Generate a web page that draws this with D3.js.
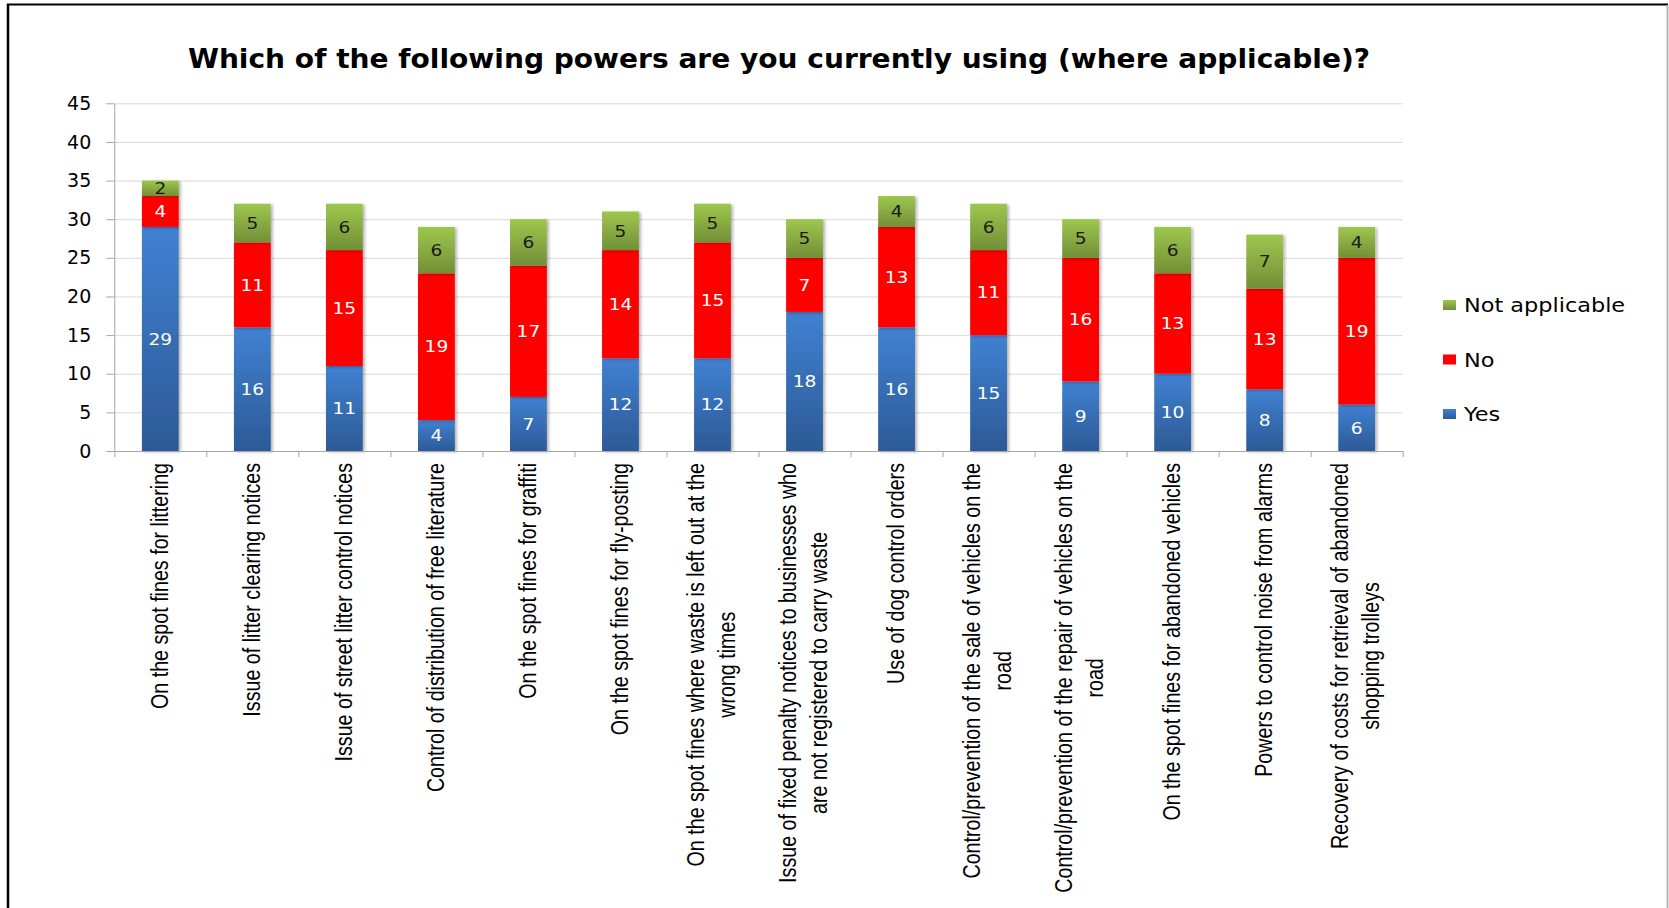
<!DOCTYPE html>
<html lang="en">
<head>
<meta charset="utf-8">
<title>Powers currently used</title>
<script src="https://cdn.jsdelivr.net/npm/d3@7"></script>
<style>
  body { margin: 0; background: #fff; }
  svg { display: block; }
</style>
</head>
<body>
<div id="chart"></div>
<script>
// category labels, one entry per line of the (rotated) label
var categories = [
  ["On the spot fines for littering"],
  ["Issue of litter clearing notices"],
  ["Issue of street litter control notices"],
  ["Control of distribution of free literature"],
  ["On the spot fines for graffiti"],
  ["On the spot fines for fly-posting"],
  ["On the spot fines where waste is left out at the", "wrong times"],
  ["Issue of fixed penalty notices to businesses who", "are not registered to carry waste"],
  ["Use of dog control orders"],
  ["Control/prevention of the sale of vehicles on the", "road"],
  ["Control/prevention of the repair of vehicles on the", "road"],
  ["On the spot fines for abandoned vehicles"],
  ["Powers to control noise from alarms"],
  ["Recovery of costs for retrieval of abandoned", "shopping trolleys"]
];
var yesValues = [29, 16, 11, 4, 7, 12, 12, 18, 16, 15, 9, 10, 8, 6];
var noValues  = [4, 11, 15, 19, 17, 14, 15, 7, 13, 11, 16, 13, 13, 19];
var naValues  = [2, 5, 6, 6, 6, 5, 5, 5, 4, 6, 5, 6, 7, 4];
var seriesNames = ["Yes", "No", "Not applicable"];
var yTicks = [0, 5, 10, 15, 20, 25, 30, 35, 40, 45];
var titleText = "Which of the following powers are you currently using (where applicable)?";

var W = 1669, H = 908;
var plotLeft = 114.3, plotRight = 1402.7, plotTop = 103.3, plotBottom = 451;

var svg = d3.select("#chart").append("svg")
    .attr("width", W)
    .attr("height", H);

var defs = svg.append("defs");
function vgrad(id, c1, c2) {
  var g = defs.append("linearGradient").attr("id", id)
    .attr("x1", 0).attr("y1", 0).attr("x2", 0).attr("y2", 1);
  g.append("stop").attr("offset", "0%").attr("stop-color", c1);
  g.append("stop").attr("offset", "100%").attr("stop-color", c2);
}
vgrad("gYes", "#4081d2", "#2c5a96");
vgrad("gNA", "#9ec74e", "#728f36");
var sh = defs.append("filter").attr("id", "shadow")
    .attr("x", "-20%").attr("y", "-5%").attr("width", "150%").attr("height", "115%");
sh.append("feDropShadow").attr("dx", 2).attr("dy", 1)
    .attr("stdDeviation", 1.4).attr("flood-color", "#000").attr("flood-opacity", 0.3);

var fills = { "Yes": "url(#gYes)", "No": "#ff0000", "Not applicable": "url(#gNA)" };
var labelColors = { "Yes": "#ffffff", "No": "#ffffff", "Not applicable": "#1a1a1a" };

// frame round the chart area
svg.append("line").attr("x1", 7).attr("x2", 1668).attr("y1", 4.5).attr("y2", 4.5)
    .attr("stroke", "#000").attr("stroke-width", 2);
svg.append("line").attr("x1", 8).attr("x2", 8).attr("y1", 4).attr("y2", H)
    .attr("stroke", "#000").attr("stroke-width", 2.5);
svg.append("line").attr("x1", 1667.5).attr("x2", 1667.5).attr("y1", 5).attr("y2", H)
    .attr("stroke", "#b5b5b5").attr("stroke-width", 2);

// title
svg.append("text")
    .attr("transform", "translate(779,68) scale(1.08,1)")
    .attr("text-anchor", "middle")
    .style("font-family", "'DejaVu Sans', sans-serif")
    .style("font-weight", "bold")
    .style("font-size", "26px")
    .style("fill", "#000")
    .text(titleText);

var data = categories.map(function(c, i) {
  return { idx: i, "Yes": yesValues[i], "No": noValues[i], "Not applicable": naValues[i] };
});

var x = d3.scaleBand()
    .domain(d3.range(categories.length))
    .range([plotLeft, plotRight])
    .paddingInner(0.6)
    .paddingOuter(0.3);

var xEdge = d3.scaleLinear().domain([0, categories.length]).range([plotLeft, plotRight]);

var y = d3.scaleLinear().domain([0, 45]).range([plotBottom, plotTop]);

// gridlines
svg.append("g")
    .attr("transform", "translate(" + plotLeft + ",0)")
    .call(d3.axisLeft(y).tickValues(yTicks).tickSize(-(plotRight - plotLeft)).tickFormat(""))
    .call(function(g) {
      g.select(".domain").remove();
      g.selectAll("line").attr("stroke", "#d9d9d9").attr("stroke-width", 1);
    });

// stacked bars
var stack = d3.stack().keys(seriesNames);
var series = stack(data);

var layers = svg.append("g").selectAll("g.layer")
    .data(series)
    .enter().append("g")
    .attr("class", "layer");

layers.selectAll("rect")
    .data(function(d) { return d.map(function(p) { return { key: d.key, p: p }; }); })
    .enter().append("rect")
    .attr("x", function(d) { return x(d.p.data.idx); })
    .attr("width", x.bandwidth())
    .attr("y", function(d) { return y(d.p[1]); })
    .attr("height", function(d) { return y(d.p[0]) - y(d.p[1]); })
    .attr("fill", function(d) { return fills[d.key]; })
    .attr("filter", "url(#shadow)");

// value labels in the segments
layers.selectAll("text")
    .data(function(d) { return d.map(function(p) { return { key: d.key, p: p }; }); })
    .enter().append("text")
    .attr("transform", function(d) {
      var cx = x(d.p.data.idx) + x.bandwidth() / 2;
      var cy = (y(d.p[0]) + y(d.p[1])) / 2;
      return "translate(" + cx + "," + cy + ") scale(1.2,1)";
    })
    .attr("text-anchor", "middle")
    .attr("dy", "0.37em")
    .style("font-family", "'DejaVu Sans', sans-serif")
    .style("font-size", "15.5px")
    .style("fill", function(d) { return labelColors[d.key]; })
    .text(function(d) { return d.p[1] - d.p[0]; });

// y axis
var yAxis = svg.append("g")
    .attr("transform", "translate(" + plotLeft + ",0)")
    .call(d3.axisLeft(y).tickValues(yTicks).tickSize(8).tickSizeOuter(0).tickPadding(15));
yAxis.select(".domain").attr("stroke", "#a6a6a6");
yAxis.selectAll(".tick line").attr("stroke", "#a6a6a6");
yAxis.selectAll(".tick text")
    .style("font-family", "'DejaVu Sans', sans-serif")
    .style("font-size", "19px")
    .style("fill", "#000");

// x axis, ticks at the category boundaries
var xAxis = svg.append("g")
    .attr("transform", "translate(0," + plotBottom + ")")
    .call(d3.axisBottom(xEdge).tickValues(d3.range(categories.length + 1)).tickSize(6).tickSizeOuter(0).tickFormat(""));
xAxis.select(".domain").attr("stroke", "#a6a6a6");
xAxis.selectAll(".tick line").attr("stroke", "#a6a6a6");

// rotated category labels (narrowed along the text direction)
var labelTop = 463, lineGap = 31, labelSize = 24, squeeze = 0.82;
var labelFont = "'Liberation Sans Narrow', 'Liberation Sans', Arial, sans-serif";
var cats = svg.append("g").selectAll("g.cat")
    .data(categories)
    .enter().append("g")
    .attr("class", "cat");

cats.each(function(lines, i) {
  var g = d3.select(this);
  var cx = x(i) + x.bandwidth() / 2;
  var texts = lines.map(function(line, k) {
    var off = (k - (lines.length - 1) / 2) * lineGap;
    return g.append("text")
      .attr("transform", "translate(" + (cx + off + labelSize * 0.3) + ",0) rotate(-90) scale(" + squeeze + ",1)")
      .attr("text-anchor", "middle")
      .style("font-family", labelFont)
      .style("font-size", labelSize + "px")
      .style("fill", "#000")
      .text(line);
  });
  var maxLen = d3.max(texts, function(t) { return t.node().getComputedTextLength(); });
  texts.forEach(function(t) { t.attr("x", -(labelTop / squeeze + maxLen / 2)); });
});

// legend, top entry first
var legendNames = seriesNames.slice().reverse();
var legendY = [312, 366.5, 421];
var legend = svg.append("g").selectAll("g.leg")
    .data(legendNames)
    .enter().append("g")
    .attr("class", "leg")
    .attr("transform", function(d, i) { return "translate(1443," + legendY[i] + ")"; });
legend.append("rect")
    .attr("x", 0).attr("y", -12)
    .attr("width", 13).attr("height", 10)
    .attr("fill", function(d) { return fills[d]; });
legend.append("text")
    .attr("transform", "translate(21,0) scale(1.12,1)")
    .style("font-family", "'DejaVu Sans', sans-serif")
    .style("font-size", "20px")
    .style("fill", "#000")
    .text(function(d) { return d; });
</script>
</body>
</html>
